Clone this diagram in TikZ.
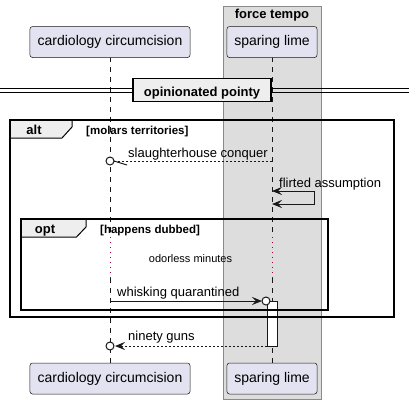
\documentclass[tikz,border=0pt]{standalone}
\usepackage{fontspec}
\setmainfont{Liberation Sans}
\usetikzlibrary{arrows.meta}
\definecolor{partfill}{HTML}{E2E2F0}
\definecolor{linec}{HTML}{181818}
\definecolor{boxfill}{HTML}{DDDDDD}
\definecolor{boxline}{HTML}{8A8A8A}
\definecolor{tabfill}{HTML}{EEEEEE}
\definecolor{delayc}{HTML}{A80036}
\begin{document}
\begin{tikzpicture}[x=1bp,y=-1bp,
  part/.style={draw=linec, line width=0.5bp, fill=partfill, rounded corners=2.5bp,
    minimum height=31bp, inner sep=0pt, font=\fontsize{14bp}{16bp}\selectfont},
  life/.style={draw=linec, line width=0.5bp, dash pattern=on 5bp off 5bp},
  delayline/.style={draw=delayc, line width=1bp, dash pattern=on 1bp off 4bp},
  msgtext/.style={font=\fontsize{13bp}{15bp}\selectfont, inner sep=0pt, anchor=base west},
  boldtext/.style={font=\bfseries\fontsize{13bp}{15bp}\selectfont, inner sep=0pt, anchor=base},
  guardtext/.style={font=\bfseries\fontsize{11.5bp}{13bp}\selectfont, inner sep=0pt, anchor=base west},
  frameline/.style={draw=black, line width=1.5bp},
  tab/.style={draw=black, line width=1bp, fill=tabfill},
  solidmsg/.style={draw=linec, line width=1bp},
  dashmsg/.style={draw=linec, line width=1bp, dash pattern=on 2bp off 2bp},
  tip/.style={-{Stealth[length=10bp,width=8bp,inset=4bp]}},
  ring/.style={draw=linec, line width=1bp, fill=white},
  actbox/.style={draw=linec, line width=1bp, fill=white}
]
\useasboundingbox (0,0) rectangle (409,404);
% box group
\fill[boxfill, draw=boxline, line width=1bp] (223,6) rectangle (321,399);
\node[boldtext] (boxlabel) at (272,18.5) {force tempo};
% lifelines
\coordinate (l1a) at (110,57);
\coordinate (l1b) at (110,237);
\coordinate (l1c) at (110,278);
\coordinate (l1d) at (110,363);
\coordinate (l2a) at (272,57);
\coordinate (l2b) at (272,237);
\coordinate (l2c) at (272,278);
\coordinate (l2d) at (272,363);
\draw[life] (l1a) -- (l1b);
\draw[delayline] (l1b) -- (l1c);
\draw[life] (l1c) -- (l1d);
\draw[life] (l2a) -- (l2b);
\draw[delayline] (l2b) -- (l2c);
\draw[life] (l2c) -- (l2d);
% participants
\node[part, minimum width=160bp] (p1top) at (110,42) {cardiology circumcision};
\node[part, minimum width=90bp] (p2top) at (272,42) {sparing lime};
\node[part, minimum width=160bp] (p1bot) at (110,378.5) {cardiology circumcision};
\node[part, minimum width=90bp] (p2bot) at (272,378.5) {sparing lime};
% activation
\node[actbox, minimum width=10bp, minimum height=45bp, inner sep=0pt] (act) at (272,323.5) {};
% divider
\draw[draw=black, line width=1bp] (0,88) -- (409,88);
\draw[draw=black, line width=1bp] (0,92) -- (409,92);
\node[draw=black, line width=1.5bp, fill=tabfill, minimum width=138bp, minimum height=23bp, inner sep=0pt] (divbox) at (202,90) {};
\node[boldtext] (divlabel) at (202,96.5) {opinionated pointy};
% alt frame
\draw[tab] (10,120) -- (72,120) -- (72,127) -- (62,138) -- (10,138) -- cycle;
\draw[frameline] (10,120) rectangle (394,317);
\node[boldtext] (altlabel) at (34,134) {alt};
\node[guardtext] (altguard) at (86,134) {[molars territories]};
% message 1
\coordinate (m1s) at (272,161);
\coordinate (m1e) at (114,161);
\coordinate (m1c) at (110,161);
\coordinate (m1b) at (127,165);
\draw[dashmsg] (m1s) -- (m1e);
\draw[solidmsg] (m1e) -- (m1b);
\draw[ring] (m1c) circle (4bp);
\node[msgtext] (t1) at (128,157) {slaughterhouse conquer};
% self message
\coordinate (s1) at (272,191);
\coordinate (s2) at (314,191);
\coordinate (s3) at (314,204);
\coordinate (s4) at (272,204);
\draw[solidmsg, {Stealth[length=10bp,width=8bp,inset=4bp]}-{Stealth[length=10bp,width=8bp,inset=4bp]}] (s1) -- (s2) -- (s3) -- (s4);
\node[msgtext] (t2) at (279,187.5) {flirted assumption};
% opt frame
\draw[tab] (21,219) -- (86,219) -- (86,227) -- (76.5,237) -- (21,237) -- cycle;
\draw[frameline] (21,219) rectangle (328,310);
\node[boldtext] (optlabel) at (45,233.5) {opt};
\node[guardtext] (optguard) at (100,233.5) {[happens dubbed]};
\node[font=\fontsize{11bp}{13bp}\selectfont, inner sep=0pt, anchor=base] (delaytext) at (190.5,262) {odorless minutes};
% message whisking
\coordinate (w1) at (110,301);
\coordinate (w2) at (262,301);
\coordinate (wc) at (266,301);
\draw[solidmsg, tip] (w1) -- (w2);
\draw[ring] (wc) circle (4bp);
\node[msgtext] (t3) at (117,296.5) {whisking quarantined};
% message ninety guns
\coordinate (n1) at (267,346);
\coordinate (n2) at (115,346);
\coordinate (nc) at (110,346);
\draw[dashmsg, tip] (n1) -- (n2);
\draw[ring] (nc) circle (4bp);
\node[msgtext] (t4) at (128,340.5) {ninety guns};
\end{tikzpicture}
\end{document}
